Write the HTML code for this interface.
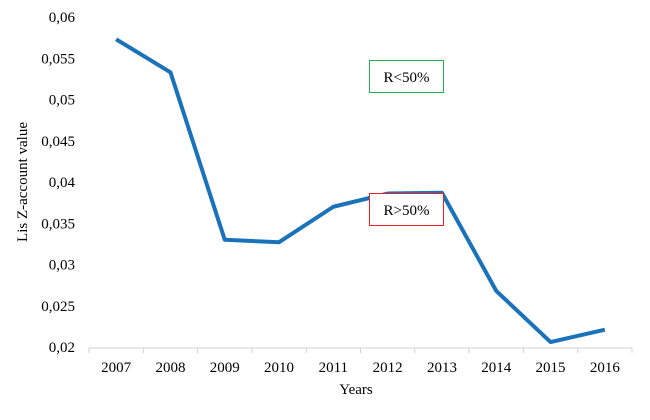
<!DOCTYPE html>
<html><head><meta charset="utf-8"><style>
body{margin:0;background:#fff}
svg{font-family:"Liberation Serif",serif;display:block}
</style></head><body>
<svg width="650" height="420">
<g id="axes"></g>
<path id="line" fill="none" stroke="#1a72bb" stroke-width="4" stroke-linejoin="round"/>
<g>
<rect x="369.5" y="60.5" width="74" height="32" fill="#fff" stroke="#22b04c"/>
<text x="406.5" y="82" text-anchor="middle" font-size="15">R&lt;50%</text></g>
<g>
<rect x="369.5" y="193.5" width="74" height="32" fill="#fff" stroke="#ee1c24"/>
<text x="406.5" y="215" text-anchor="middle" font-size="15">R&gt;50%</text></g>
<text x="356" y="394" text-anchor="middle" font-size="15">Years</text>
<text transform="translate(27,182) rotate(-90)" text-anchor="middle" font-size="15">Lis Z-account value</text>
</svg>
<script>
const categories=["2007","2008","2009","2010","2011","2012","2013","2014","2015","2016"];
const values=[0.0573,0.0533,0.0330,0.0327,0.0370,0.0386,0.0387,0.0268,0.0206,0.0221];
const yTicks=[0.02,0.025,0.03,0.035,0.04,0.045,0.05,0.055,0.06];
const yTickLabels=["0,02","0,025","0,03","0,035","0,04","0,045","0,05","0,055","0,06"];
const NS="http://www.w3.org/2000/svg";
const x0=89,step=54.3,yMin=0.02,yMax=0.06,py0=347,py1=17;
const xPos=i=>x0+step*(i+0.5);
const yPos=v=>py0-(v-yMin)/(yMax-yMin)*(py0-py1);
const g=document.getElementById('axes');
function mk(t,a){const e=document.createElementNS(NS,t);for(const k in a)e.setAttribute(k,a[k]);g.appendChild(e);return e;}
const ax=mk('line',{x1:x0,x2:x0+step*categories.length,y1:348,y2:348,stroke:'#d0d0d0'});


for(let i=0;i<=categories.length;i++){const t=mk('line',{x1:x0+step*i,x2:x0+step*i,y1:348,y2:353,stroke:'#d0d0d0'});

}
categories.forEach((c,i)=>{const t=mk('text',{x:xPos(i),y:372,'text-anchor':'middle','font-size':15});t.textContent=c;

});
yTicks.forEach((v,i)=>{const t=mk('text',{x:75,y:yPos(v)+5,'text-anchor':'end','font-size':15});t.textContent=yTickLabels[i];

});
document.getElementById('line').setAttribute('d',values.map((v,i)=>(i?'L':'M')+xPos(i)+','+yPos(v)).join(''));
</script>
</body></html>
